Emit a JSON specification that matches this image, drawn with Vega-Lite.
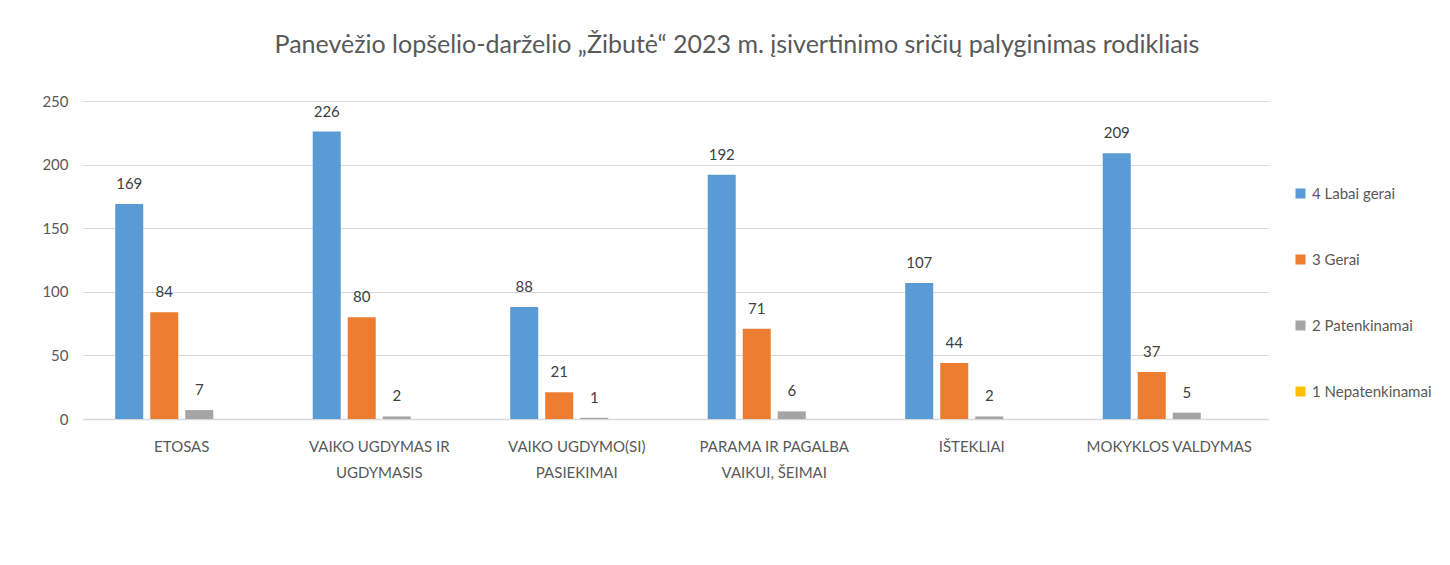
{
  "$schema": "https://vega.github.io/schema/vega-lite/v6.json",
  "width": 1185,
  "height": 318,
  "autosize": {"type": "none"},
  "padding": {"left": 83, "top": 101, "right": 182, "bottom": 146},
  "background": "white",
  "config": {"font": "Lato", "view": {"stroke": null}},
  "title": {
    "text": "Panevėžio lopšelio-darželio „Žibutė“ 2023 m. įsivertinimo sričių palyginimas rodikliais",
    "font": "Lato",
    "fontSize": 25,
    "fontWeight": "normal",
    "color": "#595959",
    "anchor": "middle",
    "frame": "bounds",
    "offset": 36
  },
  "data": {
    "values": [
      {"area": "ETOSAS", "rating": "4 Labai gerai", "value": 169},
      {"area": "ETOSAS", "rating": "3 Gerai", "value": 84},
      {"area": "ETOSAS", "rating": "2 Patenkinamai", "value": 7},
      {"area": "ETOSAS", "rating": "1 Nepatenkinamai", "value": 0},
      {"area": "VAIKO UGDYMAS IR|UGDYMASIS", "rating": "4 Labai gerai", "value": 226},
      {"area": "VAIKO UGDYMAS IR|UGDYMASIS", "rating": "3 Gerai", "value": 80},
      {"area": "VAIKO UGDYMAS IR|UGDYMASIS", "rating": "2 Patenkinamai", "value": 2},
      {"area": "VAIKO UGDYMAS IR|UGDYMASIS", "rating": "1 Nepatenkinamai", "value": 0},
      {"area": "VAIKO UGDYMO(SI)|PASIEKIMAI", "rating": "4 Labai gerai", "value": 88},
      {"area": "VAIKO UGDYMO(SI)|PASIEKIMAI", "rating": "3 Gerai", "value": 21},
      {"area": "VAIKO UGDYMO(SI)|PASIEKIMAI", "rating": "2 Patenkinamai", "value": 1},
      {"area": "VAIKO UGDYMO(SI)|PASIEKIMAI", "rating": "1 Nepatenkinamai", "value": 0},
      {"area": "PARAMA IR PAGALBA|VAIKUI, ŠEIMAI", "rating": "4 Labai gerai", "value": 192},
      {"area": "PARAMA IR PAGALBA|VAIKUI, ŠEIMAI", "rating": "3 Gerai", "value": 71},
      {"area": "PARAMA IR PAGALBA|VAIKUI, ŠEIMAI", "rating": "2 Patenkinamai", "value": 6},
      {"area": "PARAMA IR PAGALBA|VAIKUI, ŠEIMAI", "rating": "1 Nepatenkinamai", "value": 0},
      {"area": "IŠTEKLIAI", "rating": "4 Labai gerai", "value": 107},
      {"area": "IŠTEKLIAI", "rating": "3 Gerai", "value": 44},
      {"area": "IŠTEKLIAI", "rating": "2 Patenkinamai", "value": 2},
      {"area": "IŠTEKLIAI", "rating": "1 Nepatenkinamai", "value": 0},
      {"area": "MOKYKLOS VALDYMAS", "rating": "4 Labai gerai", "value": 209},
      {"area": "MOKYKLOS VALDYMAS", "rating": "3 Gerai", "value": 37},
      {"area": "MOKYKLOS VALDYMAS", "rating": "2 Patenkinamai", "value": 5},
      {"area": "MOKYKLOS VALDYMAS", "rating": "1 Nepatenkinamai", "value": 0}
    ]
  },
  "encoding": {
    "x": {
      "field": "area",
      "type": "nominal",
      "sort": null,
      "scale": {"paddingInner": 0, "paddingOuter": 0},
      "axis": {
        "title": null,
        "labelExpr": "split(datum.label, '|')",
        "labelAngle": 0,
        "labelFontSize": 15,
        "labelColor": "#595959",
        "labelPadding": 27,
        "labelLineHeight": 26,
        "labelBaseline": "middle",
        "ticks": false,
        "grid": false,
        "domainColor": "#d9d9d9",
        "domainWidth": 1.5
      }
    },
    "xOffset": {
      "field": "rating",
      "type": "nominal",
      "sort": ["4 Labai gerai", "3 Gerai", "2 Patenkinamai", "1 Nepatenkinamai"],
      "scale": {"paddingInner": 0.2, "paddingOuter": 0.92}
    },
    "y": {
      "field": "value",
      "type": "quantitative",
      "scale": {"domain": [0, 250], "nice": false},
      "axis": {
        "title": null,
        "values": [0, 50, 100, 150, 200, 250],
        "domain": false,
        "ticks": false,
        "grid": true,
        "gridColor": "#d9d9d9",
        "gridWidth": 1.2,
        "labelPadding": 15,
        "labelFontSize": 15,
        "labelColor": "#595959"
      }
    }
  },
  "layer": [
    {
      "mark": {"type": "bar"},
      "encoding": {
        "color": {
          "field": "rating",
          "type": "nominal",
          "sort": ["4 Labai gerai", "3 Gerai", "2 Patenkinamai", "1 Nepatenkinamai"],
          "scale": {
            "domain": ["4 Labai gerai", "3 Gerai", "2 Patenkinamai", "1 Nepatenkinamai"],
            "range": ["#5b9bd5", "#ed7d31", "#a5a5a5", "#ffc000"]
          },
          "legend": {
            "title": null,
            "orient": "none",
            "legendX": 1210,
            "legendY": 85,
            "symbolType": "square",
            "symbolSize": 100,
            "symbolStrokeWidth": 0,
            "labelFontSize": 15,
            "labelColor": "#595959",
            "labelOffset": 4,
            "rowPadding": 50
          }
        }
      }
    },
    {
      "transform": [{"filter": "datum.value > 0"}],
      "mark": {"type": "text", "baseline": "bottom", "dy": -12, "fontSize": 15, "color": "#404040"},
      "encoding": {"text": {"field": "value", "type": "quantitative"}}
    }
  ]
}
